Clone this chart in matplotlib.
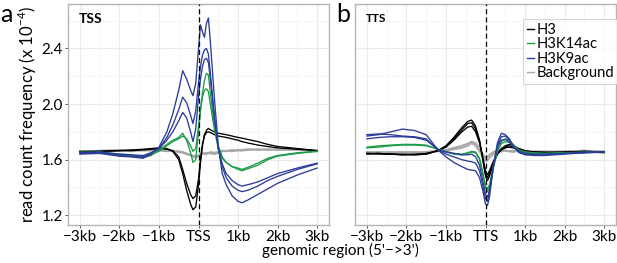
import matplotlib
matplotlib.use("Agg")
import matplotlib.pyplot as plt
from matplotlib.lines import Line2D

plt.rcParams['font.family'] = ['Lato', 'DejaVu Sans']

# ---------------- data ----------------
# Panel a: TSS profiles, x in kb
xa = [-3, -2.5, -2, -1.7, -1.4, -1.2, -1.0, -0.8, -0.65, -0.5, -0.4, -0.3, -0.2, -0.14, -0.07,
      0, 0.05, 0.1, 0.15, 0.2, 0.25, 0.3, 0.4, 0.5, 0.6, 0.7, 0.85, 1.0, 1.1, 1.25, 1.5, 1.75, 2.0, 2.5, 3.0]

tss_h3_1 = [1.655, 1.66, 1.665, 1.67, 1.675, 1.68, 1.685, 1.68, 1.66, 1.60, 1.50, 1.38, 1.28, 1.24, 1.26,
            1.42, 1.58, 1.70, 1.78, 1.81, 1.825, 1.815, 1.80, 1.79, 1.785, 1.78, 1.77, 1.76, 1.755, 1.745, 1.73, 1.71, 1.695, 1.68, 1.665]
tss_h3_2 = [1.66, 1.66, 1.665, 1.665, 1.67, 1.675, 1.68, 1.675, 1.665, 1.62, 1.53, 1.43, 1.35, 1.32, 1.34,
            1.46, 1.60, 1.71, 1.77, 1.795, 1.80, 1.795, 1.78, 1.77, 1.765, 1.76, 1.75, 1.74, 1.73, 1.72, 1.705, 1.695, 1.685, 1.675, 1.665]
tss_k14_1 = [1.65, 1.655, 1.64, 1.635, 1.615, 1.63, 1.67, 1.71, 1.74, 1.76, 1.79, 1.74, 1.65, 1.58, 1.60,
             1.80, 1.95, 2.08, 2.17, 2.22, 2.21, 2.08, 1.85, 1.70, 1.62, 1.58, 1.55, 1.53, 1.52, 1.535, 1.56, 1.60, 1.625, 1.645, 1.66]
tss_k14_2 = [1.655, 1.65, 1.635, 1.63, 1.62, 1.635, 1.66, 1.70, 1.73, 1.75, 1.77, 1.75, 1.70, 1.66, 1.68,
             1.84, 1.96, 2.05, 2.10, 2.11, 2.09, 2.00, 1.82, 1.68, 1.61, 1.58, 1.55, 1.54, 1.53, 1.545, 1.575, 1.61, 1.63, 1.65, 1.66]
tss_k9_1 = [1.64, 1.645, 1.625, 1.62, 1.61, 1.64, 1.69, 1.80, 1.93, 2.10, 2.24, 2.18, 2.10, 2.06, 2.15,
            2.40, 2.57, 2.52, 2.48, 2.58, 2.62, 2.45, 2.05, 1.70, 1.50, 1.42, 1.34, 1.30, 1.29, 1.31, 1.35, 1.39, 1.43, 1.49, 1.54]
tss_k9_2 = [1.645, 1.65, 1.63, 1.625, 1.62, 1.645, 1.68, 1.76, 1.85, 1.96, 2.05, 2.01, 1.92, 1.86, 1.95,
            2.15, 2.27, 2.35, 2.39, 2.40, 2.36, 2.22, 1.92, 1.68, 1.55, 1.47, 1.41, 1.38, 1.37, 1.38, 1.41, 1.45, 1.48, 1.53, 1.57]
tss_k9_3 = [1.65, 1.655, 1.64, 1.635, 1.63, 1.65, 1.68, 1.74, 1.80, 1.88, 1.94, 1.90, 1.80, 1.73, 1.82,
            2.05, 2.18, 2.27, 2.32, 2.33, 2.30, 2.18, 1.90, 1.68, 1.57, 1.50, 1.45, 1.42, 1.41, 1.42, 1.44, 1.47, 1.50, 1.54, 1.575]
tss_bg_1 = [1.655, 1.665, 1.67, 1.66, 1.67, 1.665, 1.67, 1.66, 1.665, 1.655, 1.65, 1.64, 1.63, 1.62, 1.615,
            1.625, 1.635, 1.64, 1.645, 1.64, 1.65, 1.645, 1.64, 1.65, 1.66, 1.665, 1.66, 1.67, 1.665, 1.67, 1.675, 1.67, 1.675, 1.67, 1.665]
tss_bg_2 = [1.66, 1.66, 1.665, 1.67, 1.665, 1.67, 1.665, 1.665, 1.66, 1.66, 1.655, 1.645, 1.635, 1.63, 1.625,
            1.63, 1.64, 1.65, 1.64, 1.65, 1.645, 1.655, 1.65, 1.655, 1.665, 1.66, 1.67, 1.665, 1.67, 1.675, 1.67, 1.675, 1.67, 1.675, 1.66]

# Panel b: TTS profiles, x in kb
xb = [-3, -2.7, -2.4, -2.1, -1.8, -1.5, -1.2, -1.0, -0.8, -0.6, -0.45, -0.35, -0.25, -0.15, -0.07,
      0, 0.05, 0.1, 0.2, 0.3, 0.4, 0.5, 0.6, 0.7, 0.85, 1.0, 1.25, 1.5, 2.0, 2.5, 3.0]

tts_h3_1 = [1.645, 1.645, 1.64, 1.635, 1.635, 1.64, 1.665, 1.70, 1.76, 1.83, 1.875, 1.885, 1.84, 1.74, 1.60,
            1.48, 1.45, 1.48, 1.57, 1.64, 1.68, 1.70, 1.71, 1.70, 1.68, 1.665, 1.655, 1.65, 1.655, 1.66, 1.655]
tts_h3_2 = [1.64, 1.645, 1.64, 1.64, 1.635, 1.64, 1.665, 1.695, 1.75, 1.815, 1.86, 1.865, 1.82, 1.73, 1.61,
            1.50, 1.47, 1.50, 1.58, 1.64, 1.675, 1.69, 1.70, 1.69, 1.675, 1.66, 1.655, 1.655, 1.65, 1.66, 1.655]
tts_h3_3 = [1.645, 1.64, 1.64, 1.635, 1.64, 1.645, 1.665, 1.69, 1.74, 1.80, 1.835, 1.84, 1.80, 1.72, 1.62,
            1.52, 1.49, 1.52, 1.59, 1.64, 1.67, 1.685, 1.69, 1.685, 1.67, 1.66, 1.655, 1.65, 1.655, 1.655, 1.65]
tts_k14_1 = [1.69, 1.70, 1.705, 1.71, 1.71, 1.705, 1.675, 1.655, 1.64, 1.635, 1.645, 1.655, 1.65, 1.60, 1.50,
             1.40, 1.37, 1.40, 1.54, 1.66, 1.73, 1.75, 1.74, 1.71, 1.67, 1.655, 1.65, 1.645, 1.65, 1.655, 1.655]
tts_k14_2 = [1.685, 1.69, 1.70, 1.705, 1.705, 1.70, 1.675, 1.66, 1.645, 1.64, 1.65, 1.66, 1.655, 1.61, 1.51,
             1.41, 1.39, 1.42, 1.55, 1.66, 1.715, 1.73, 1.725, 1.70, 1.665, 1.655, 1.645, 1.645, 1.65, 1.65, 1.655]
tts_k9_1 = [1.77, 1.78, 1.80, 1.82, 1.81, 1.78, 1.67, 1.62, 1.58, 1.55, 1.53, 1.525, 1.52, 1.47, 1.38,
            1.28, 1.27, 1.33, 1.55, 1.72, 1.79, 1.78, 1.75, 1.70, 1.65, 1.635, 1.63, 1.63, 1.64, 1.65, 1.655]
tts_k9_2 = [1.78, 1.785, 1.78, 1.77, 1.765, 1.75, 1.67, 1.64, 1.62, 1.60, 1.59, 1.585, 1.575, 1.52, 1.42,
            1.32, 1.30, 1.36, 1.55, 1.70, 1.765, 1.77, 1.745, 1.70, 1.655, 1.64, 1.635, 1.635, 1.645, 1.655, 1.655]
tts_k9_3 = [1.75, 1.76, 1.765, 1.765, 1.76, 1.74, 1.675, 1.655, 1.645, 1.635, 1.635, 1.64, 1.62, 1.56, 1.45,
            1.35, 1.33, 1.38, 1.56, 1.69, 1.74, 1.745, 1.73, 1.69, 1.66, 1.645, 1.64, 1.64, 1.645, 1.65, 1.655]
tts_bg_1 = [1.65, 1.655, 1.65, 1.655, 1.65, 1.655, 1.665, 1.67, 1.685, 1.70, 1.715, 1.73, 1.72, 1.68, 1.64,
            1.615, 1.62, 1.635, 1.655, 1.665, 1.67, 1.665, 1.66, 1.665, 1.66, 1.655, 1.66, 1.655, 1.66, 1.665, 1.655]
tts_bg_2 = [1.655, 1.65, 1.655, 1.65, 1.655, 1.65, 1.66, 1.665, 1.675, 1.685, 1.70, 1.72, 1.70, 1.66, 1.62,
            1.59, 1.595, 1.615, 1.64, 1.655, 1.66, 1.665, 1.66, 1.655, 1.665, 1.66, 1.655, 1.66, 1.655, 1.66, 1.66]

xticks = [-3, -2, -1, 0, 1, 2, 3]
xlabels_a = ['\u22123kb', '\u22122kb', '\u22121kb', 'TSS', '1kb', '2kb', '3kb']
xlabels_b = ['\u22123kb', '\u22122kb', '\u22121kb', 'TTS', '1kb', '2kb', '3kb']
yticks = [1.2, 1.6, 2.0, 2.4]
legend_labels = ['H3', 'H3K14ac', 'H3K9ac', 'Background']

# ---------------- style ----------------
C_H3 = '#000000'
C_K14 = '#1c9b48'
C_K9 = '#2b3b98'
C_BG = '#a8a8a8'
colors = [C_H3, C_K14, C_K9, C_BG]

W, H = 617, 263
fig = plt.figure(figsize=(W / 100, H / 100), dpi=100)

def fx(px):
    return px / W

def fy(py):
    return 1 - py / H

ax_a = fig.add_axes([fx(68), fy(225), fx(329) - fx(68), fy(4) - fy(225)])
ax_b = fig.add_axes([fx(355), fy(225), fx(616) - fx(355), fy(4) - fy(225)])

def style(ax, labels, show_y):
    ax.set_xlim(-3.3, 3.3)
    ax.set_ylim(1.13, 2.72)
    ax.set_xticks(xticks)
    ax.set_xticklabels(labels, fontsize=11)
    ax.set_xticks([-2.5, -1.5, -0.5, 0.5, 1.5, 2.5], minor=True)
    ax.set_yticks(yticks)
    ax.set_yticks([1.4, 1.8, 2.2, 2.6], minor=True)
    if show_y:
        ax.set_yticklabels([f'{v:.1f}' for v in yticks], fontsize=11)
    else:
        ax.set_yticklabels([])
    ax.grid(which='major', color='#ebebeb', lw=0.8)
    ax.grid(which='minor', color='#f4f4f4', lw=0.6)
    ax.set_axisbelow(True)
    ax.tick_params(which='major', length=2.5, width=0.6, color='#444444', pad=1)
    ax.tick_params(which='minor', length=0)
    if not show_y:
        ax.tick_params(axis='y', which='major', length=0)
    for s in ax.spines.values():
        s.set_color('#b5b5b5')
        s.set_linewidth(1.0)
    ax.axvline(0, color='black', lw=0.9, ls=(0, (4, 2.5)), zorder=5)

lw = 0.95
# panel a
for ys in (tss_bg_1, tss_bg_2):
    ax_a.plot(xa, ys, color=C_BG, lw=1.4)
for ys in (tss_h3_1, tss_h3_2):
    ax_a.plot(xa, ys, color=C_H3, lw=lw)
for ys in (tss_k14_1, tss_k14_2):
    ax_a.plot(xa, ys, color=C_K14, lw=lw)
for ys in (tss_k9_1, tss_k9_2, tss_k9_3):
    ax_a.plot(xa, ys, color=C_K9, lw=lw)
style(ax_a, xlabels_a, True)

# panel b
for ys in (tts_bg_1, tts_bg_2):
    ax_b.plot(xb, ys, color=C_BG, lw=1.4)
for ys in (tts_h3_1, tts_h3_2, tts_h3_3):
    ax_b.plot(xb, ys, color=C_H3, lw=lw)
for ys in (tts_k14_1, tts_k14_2):
    ax_b.plot(xb, ys, color=C_K14, lw=lw)
for ys in (tts_k9_1, tts_k9_2, tts_k9_3):
    ax_b.plot(xb, ys, color=C_K9, lw=lw)
style(ax_b, xlabels_b, False)

ax_a.text(0.04, 0.96, 'TSS', transform=ax_a.transAxes, fontsize=10, fontweight='bold', va='top', ha='left')
ax_b.text(0.04, 0.96, 'TTS', transform=ax_b.transAxes, fontsize=8.5, fontweight='bold', va='top', ha='left')

handles = [Line2D([], [], color=c, lw=1.0) for c in colors]
leg = ax_b.legend(handles, legend_labels, loc='upper left', bbox_to_anchor=(0.644, 0.93),
                  fontsize=10.6, handlelength=0.5, handletextpad=0.15, borderpad=0.25,
                  labelspacing=0.02, frameon=True, fancybox=False, borderaxespad=0)
leg.get_frame().set_edgecolor('#cccccc')
leg.get_frame().set_linewidth(0.8)

fig.text(fx(0), fy(14), 'a', fontsize=18, va='center', ha='left')
fig.text(fx(336), fy(14), 'b', fontsize=18, va='center', ha='left')

fig.text(fx(27), fy(115), 'read count frequency (x 10$^{\\mathregular{\u22124}}$)', rotation=90,
         fontsize=12, va='center', ha='center')
fig.text(fx(340), fy(250), "genomic region (5'\u2212>3')", fontsize=11, va='center', ha='center')

fig.savefig('out.png', dpi=100)
